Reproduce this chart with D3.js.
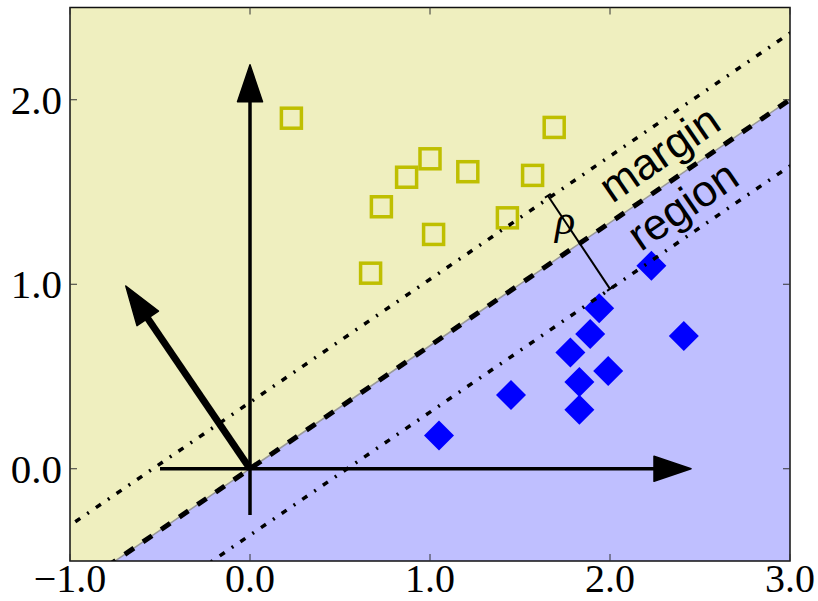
<!DOCTYPE html>
<html>
<head>
<meta charset="utf-8">
<script src="https://cdn.jsdelivr.net/npm/d3@7"></script>
<style>
  body { margin: 0; background: #fff; }
  svg { display: block; }
</style>
</head>
<body>
<script>
// values
const xTicks = [-1, 0, 1, 2, 3]
const yTicks = [0, 1, 2]
const xTickLabels = ['\u22121.0', '0.0', '1.0', '2.0', '3.0']
const yTickLabels = ['0.0', '1.0', '2.0']

// class +1 (open squares) and class -1 (diamonds)
const squares = [[0.23, 1.90], [1.00, 1.68], [0.87, 1.58], [1.21, 1.61], [1.69, 1.85],
  [1.57, 1.59], [0.73, 1.42], [1.02, 1.27], [1.43, 1.36], [0.67, 1.06]]
const diamonds = [[2.23, 1.10], [1.94, 0.87], [1.89, 0.73], [1.78, 0.63], [2.41, 0.72],
  [1.99, 0.53], [1.83, 0.47], [1.83, 0.32], [1.45, 0.40], [1.05, 0.18]]

// separating line y = slope * x + offset, and the two margin lines
const slope = 0.667
const marginOffsets = [0.36, -0.36]

// arrows: [x0, y0, x1, y1]
const axisArrows = [[-0.5, 0, 2.45, 0], [0, -0.25, 0, 2.19]]
const normalArrow = [0, 0, -0.69, 0.99]
const rhoSegment = [[1.655, 1.48], [2.0, 0.975]]
const rhoPos = [1.75, 1.27]
const labelPos = { margin: [2.28, 1.70], region: [2.41, 1.42] }

let m = { width: 818, height: 601, left: 70, right: 790, top: 7.5, bottom: 561 }

let svg = d3.select('body').append('svg')
  .attr('width', m.width)
  .attr('height', m.height)

let x = d3.scaleLinear().domain([-1, 3]).range([m.left, m.right])
let y = d3.scaleLinear().domain([-0.5, 2.5]).range([m.bottom, m.top])

svg.append('clipPath').attr('id', 'plot')
  .append('rect')
  .attr('x', m.left).attr('y', m.top)
  .attr('width', m.right - m.left).attr('height', m.bottom - m.top)

let g = svg.append('g').attr('clip-path', 'url(#plot)')

let lineAt = function(off) {
  return function(xv) { return slope * xv + off }
}
let xs = [-1.2, 3.2]

// filled half planes
let above = [[xs[0], lineAt(0)(xs[0])], [xs[1], lineAt(0)(xs[1])], [xs[1], 3], [xs[0], 3]]
let below = [[xs[0], lineAt(0)(xs[0])], [xs[1], lineAt(0)(xs[1])], [xs[1], -1], [xs[0], -1]]
let poly = d3.line().x(function(d) { return x(d[0]) }).y(function(d) { return y(d[1]) })

g.append('path').attr('d', poly(above) + 'Z').attr('fill', '#efefbf')
g.append('path').attr('d', poly(below) + 'Z').attr('fill', '#bfbfff')

// points
g.selectAll('.sq').data(squares).enter().append('rect')
  .attr('class', 'sq')
  .attr('x', function(d) { return x(d[0]) - 10 })
  .attr('y', function(d) { return y(d[1]) - 10 })
  .attr('width', 20).attr('height', 20)
  .attr('fill', 'none')
  .attr('stroke', '#bfbf00')
  .attr('stroke-width', 3.5)

g.selectAll('.dm').data(diamonds).enter().append('path')
  .attr('class', 'dm')
  .attr('d', function(d) {
    let cx = x(d[0]), cy = y(d[1]), r = 15
    return 'M' + cx + ',' + (cy - r) + 'L' + (cx + r) + ',' + cy + 'L' + cx + ',' + (cy + r) + 'L' + (cx - r) + ',' + cy + 'Z'
  })
  .attr('fill', '#0000ff')

// boundary edge (grey) and dashed boundary
let seg = function(off) { return xs.map(function(v) { return [v, lineAt(off)(v)] }) }
g.append('path').attr('d', poly(seg(0))).attr('stroke', '#999').attr('stroke-width', 1.5).attr('fill', 'none')
g.append('path').attr('d', poly(seg(0)))
  .attr('stroke', '#000').attr('stroke-width', 5).attr('fill', 'none')
  .attr('stroke-dasharray', '11,11')

// margin lines (dash-dot)
marginOffsets.forEach(function(off) {
  g.append('path').attr('d', poly(seg(off)))
    .attr('stroke', '#000').attr('stroke-width', 3.5).attr('fill', 'none')
    .attr('stroke-dasharray', '6,8.5,2,8.5')
})

// arrows
function arrow(a, lw, headLen, headHalf) {
  let x0 = x(a[0]), y0 = y(a[1]), x1 = x(a[2]), y1 = y(a[3])
  let dx = x1 - x0, dy = y1 - y0, L = Math.sqrt(dx * dx + dy * dy)
  let ux = dx / L, uy = dy / L
  let bx = x1 - ux * headLen, by = y1 - uy * headLen
  g.append('line')
    .attr('x1', x0).attr('y1', y0).attr('x2', bx + ux * 2).attr('y2', by + uy * 2)
    .attr('stroke', '#000').attr('stroke-width', lw)
  g.append('path')
    .attr('d', 'M' + x1 + ',' + y1 + 'L' + (bx - uy * headHalf) + ',' + (by + ux * headHalf) +
      'L' + (bx + uy * headHalf) + ',' + (by - ux * headHalf) + 'Z')
    .attr('fill', '#000').attr('stroke', '#000').attr('stroke-width', 1.5)
    .attr('stroke-linejoin', 'round')
}
axisArrows.forEach(function(a) { arrow(a, 3.5, 37, 12.5) })
arrow(normalArrow, 7, 39, 13)

// rho annotation
let r0 = [x(rhoSegment[0][0]), y(rhoSegment[0][1])]
let r1 = [x(rhoSegment[1][0]), y(rhoSegment[1][1])]
g.append('line')
  .attr('x1', r0[0]).attr('y1', r0[1]).attr('x2', r1[0]).attr('y2', r1[1])
  .attr('stroke', '#000').attr('stroke-width', 2)
let rdx = r1[0] - r0[0], rdy = r1[1] - r0[1], rl = Math.sqrt(rdx * rdx + rdy * rdy)
let px = rdy / rl * 3.5, py = -rdx / rl * 3.5
;[r0, r1].forEach(function(p) {
  g.append('line')
    .attr('x1', p[0] - px).attr('y1', p[1] - py).attr('x2', p[0] + px).attr('y2', p[1] + py)
    .attr('stroke', '#000').attr('stroke-width', 2)
})
g.append('text')
  .attr('x', x(rhoPos[0])).attr('y', y(rhoPos[1]))
  .attr('text-anchor', 'middle')
  .attr('font-family', 'Liberation Serif, serif')
  .attr('font-style', 'italic')
  .attr('font-size', 42)
  .text('\u03c1')

// rotated labels
let angle = -Math.atan(slope * (y(0) - y(1)) / (x(1) - x(0))) * 180 / Math.PI
Object.keys(labelPos).forEach(function(k) {
  let p = labelPos[k]
  g.append('text')
    .attr('transform', 'translate(' + x(p[0]) + ',' + y(p[1]) + ') rotate(' + angle + ')')
    .attr('text-anchor', 'middle')
    .attr('dy', '0.3em')
    .attr('font-family', 'Liberation Sans, Arial, sans-serif')
    .attr('font-size', 44)
    .text(k)
})

// frame
svg.append('rect')
  .attr('x', m.left).attr('y', m.top)
  .attr('width', m.right - m.left).attr('height', m.bottom - m.top)
  .attr('fill', 'none').attr('stroke', '#111').attr('stroke-width', 1.5)

// ticks inside on all four sides
let tl = 7
xTicks.forEach(function(t) {
  svg.append('line').attr('x1', x(t)).attr('x2', x(t)).attr('y1', m.bottom).attr('y2', m.bottom - tl).attr('stroke', '#333')
  svg.append('line').attr('x1', x(t)).attr('x2', x(t)).attr('y1', m.top).attr('y2', m.top + tl).attr('stroke', '#333')
})
yTicks.forEach(function(t) {
  svg.append('line').attr('y1', y(t)).attr('y2', y(t)).attr('x1', m.left).attr('x2', m.left + tl).attr('stroke', '#333')
  svg.append('line').attr('y1', y(t)).attr('y2', y(t)).attr('x1', m.right).attr('x2', m.right - tl).attr('stroke', '#333')
})

// tick labels
svg.selectAll('.xl').data(xTicks).enter().append('text')
  .attr('x', function(d) { return x(d) })
  .attr('y', 592)
  .attr('text-anchor', 'middle')
  .attr('font-family', 'Liberation Serif, serif')
  .attr('font-size', 40)
  .text(function(d, i) { return xTickLabels[i] })

svg.selectAll('.yl').data(yTicks).enter().append('text')
  .attr('x', 62)
  .attr('y', function(d) { return y(d) + 14 })
  .attr('text-anchor', 'end')
  .attr('font-family', 'Liberation Serif, serif')
  .attr('font-size', 41)
  .text(function(d, i) { return yTickLabels[i] })
</script>
</body>
</html>
